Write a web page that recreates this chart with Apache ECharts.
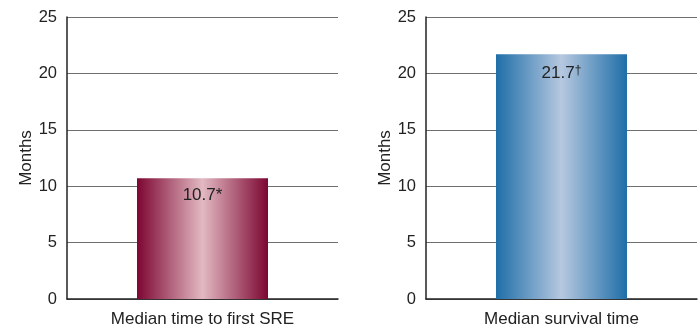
<!DOCTYPE html>
<html>
<head>
<meta charset="utf-8">
<script src="https://cdn.jsdelivr.net/npm/echarts@6/dist/echarts.min.js"></script>
<style>
  html, body { margin: 0; padding: 0; background: #fff; }
  #chart { width: 700px; height: 329px; }
</style>
</head>
<body>
<div id="chart"></div>
<script>
// Two panels: median time to first skeletal-related event, and median survival
const categoriesLeft = ['Median time to first SRE'];
const categoriesRight = ['Median survival time'];
const valuesLeft = [10.7];
const valuesRight = [21.7];
const markLeft = '*';
const markRight = '\u2020';
const yTicks = [0, 5, 10, 15, 20, 25];
const yAxisName = 'Months';

const FONT = 'Liberation Sans, Arial, sans-serif';

function barGradient(edge, mid) {
  return new echarts.graphic.LinearGradient(0, 0, 1, 0, [
    { offset: 0, color: edge },
    { offset: 0.5, color: mid },
    { offset: 1, color: edge }
  ]);
}

function yAxisFor(gridIndex) {
  return {
    gridIndex: gridIndex,
    type: 'value',
    min: yTicks[0],
    max: yTicks[yTicks.length - 1],
    interval: yTicks[1] - yTicks[0],
    name: yAxisName,
    nameLocation: 'middle',
    nameGap: 31,
    nameTextStyle: { color: '#222', fontSize: 17, fontFamily: FONT },
    axisLine: { show: true, lineStyle: { color: '#222', width: 1.5 } },
    axisTick: { show: false },
    axisLabel: { color: '#222', fontSize: 16.5, fontFamily: FONT, margin: 10 },
    splitLine: { show: true, lineStyle: { color: '#6f6f6f', width: 1 } }
  };
}

function xAxisFor(gridIndex, cats) {
  return {
    gridIndex: gridIndex,
    type: 'category',
    data: cats,
    axisLine: { show: true, lineStyle: { color: '#222', width: 1.5 } },
    axisTick: { show: false },
    axisLabel: { color: '#222', fontSize: 17, fontFamily: FONT, margin: 12 }
  };
}

function valueLabel(mark, gap) {
  return {
    show: true,
    position: 'insideTop',
    distance: gap,
    formatter: function (p) { return '{v|' + p.value.toFixed(1) + '}{m|' + mark + '}'; },
    rich: {
      v: { color: '#222', fontSize: 17, fontFamily: FONT },
      m: { color: '#222', fontSize: mark === '*' ? 17 : 12, fontFamily: FONT, verticalAlign: 'top', padding: mark === '*' ? 0 : [0, 0, 7, 0] }
    }
  };
}

const chart = echarts.init(document.getElementById('chart'), null, { renderer: 'canvas' });
chart.setOption({
  animation: false,
  grid: [
    { left: 67, right: 362, top: 17, bottom: 30 },
    { left: 426, right: 3, top: 17, bottom: 30 }
  ],
  xAxis: [xAxisFor(0, categoriesLeft), xAxisFor(1, categoriesRight)],
  yAxis: [yAxisFor(0), yAxisFor(1)],
  series: [
    {
      type: 'bar',
      xAxisIndex: 0,
      yAxisIndex: 0,
      data: valuesLeft,
      barWidth: 131,
      itemStyle: { color: barGradient('#7d0632', '#e2b9c2') },
      label: valueLabel(markLeft, 9)
    },
    {
      type: 'bar',
      xAxisIndex: 1,
      yAxisIndex: 1,
      data: valuesRight,
      barWidth: 131,
      itemStyle: { color: barGradient('#1f6ea8', '#b6c8e0') },
      label: valueLabel(markRight, 10)
    }
  ]
});
</script>
</body>
</html>
